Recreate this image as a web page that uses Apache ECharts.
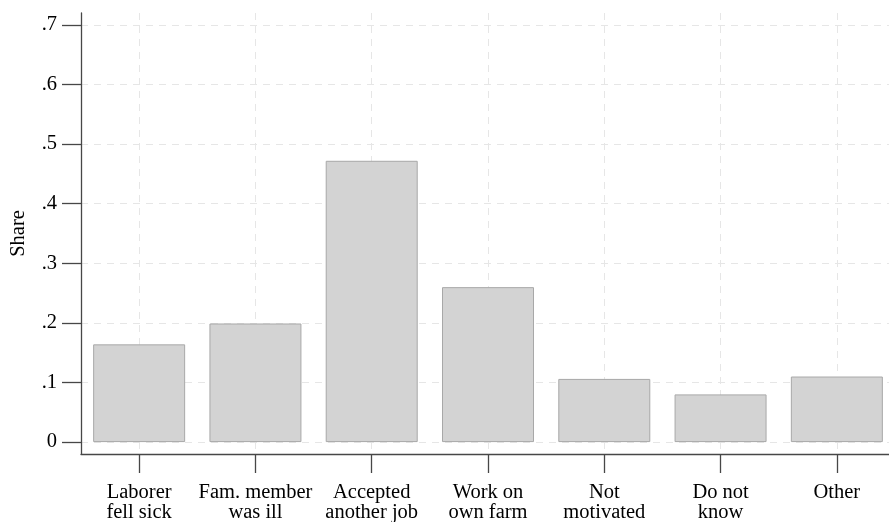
<!DOCTYPE html>
<html>
<head>
<meta charset="utf-8">
<script src="https://cdn.jsdelivr.net/npm/echarts@6/dist/echarts.min.js"></script>
<style>
html,body{margin:0;padding:0;background:#fff;}
#chart{width:889px;height:522px;}
</style>
</head>
<body>
<div id="chart"></div>
<script>
const categories = ['Laborer\nfell sick', 'Fam. member\nwas ill', 'Accepted\nanother job', 'Work on\nown farm', 'Not\nmotivated', 'Do not\nknow', 'Other'];
const shareValues = [0.164, 0.199, 0.472, 0.260, 0.106, 0.080, 0.110];
const yTickValues = [0, 0.1, 0.2, 0.3, 0.4, 0.5, 0.6, 0.7];
const yTickLabels = ['0', '.1', '.2', '.3', '.4', '.5', '.6', '.7'];

const FONT = '"Liberation Serif", "DejaVu Serif", serif';
const AXIS_COLOR = '#474747';
const GRID_COLOR = '#e6e6e6';

const chart = echarts.init(document.getElementById('chart'), null, {renderer: 'canvas'});
chart.setOption({
  animation: false,
  backgroundColor: '#ffffff',
  grid: {left: 81, top: 13, width: 814, height: 441, containLabel: false, outerBoundsMode: 'none'},
  xAxis: {
    type: 'category',
    data: categories,
    boundaryGap: true,
    axisLine: {onZero: false, lineStyle: {color: AXIS_COLOR, width: 1.3}},
    axisTick: {show: true, interval: 0, alignWithLabel: true, length: 19, lineStyle: {color: AXIS_COLOR, width: 1.3}},
    axisLabel: {
      interval: 0, margin: 29, color: '#000', fontFamily: FONT, fontSize: 20.5, lineHeight: 20
    },
    splitLine: {show: true, interval: 0, alignWithLabel: true, lineStyle: {color: GRID_COLOR, type: [7, 6], width: 1}}
  },
  yAxis: {
    type: 'value',
    min: -0.02,
    max: 0.72,
    name: 'Share',
    nameLocation: 'middle',
    nameGap: 52,
    nameRotate: 90,
    nameTextStyle: {color: '#000', fontFamily: FONT, fontSize: 20.5},
    axisLine: {show: true, lineStyle: {color: AXIS_COLOR, width: 1.3}},
    axisTick: {show: true, length: 19, customValues: yTickValues, lineStyle: {color: AXIS_COLOR, width: 1.3}},
    axisLabel: {
      customValues: yTickValues,
      margin: 24,
      color: '#000', fontFamily: FONT, fontSize: 20.5,
      formatter: function (v) {
        const i = yTickValues.findIndex(t => Math.abs(t - v) < 1e-9);
        return i >= 0 ? yTickLabels[i] : '';
      }
    },
    splitLine: {show: true, lineStyle: {color: GRID_COLOR, type: [7, 6], width: 1}}
  },
  series: [{
    type: 'bar',
    data: shareValues,
    barWidth: 92,
    itemStyle: {color: '#d3d3d3', borderColor: '#a8a8a8', borderWidth: 1}
  }]
});
</script>
</body>
</html>
